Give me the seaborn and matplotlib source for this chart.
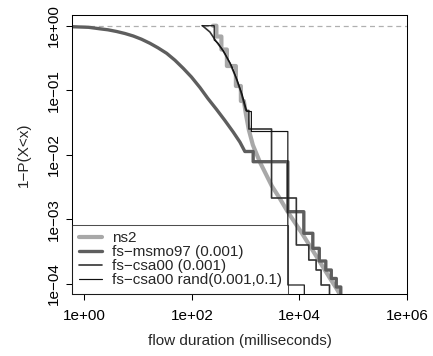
import matplotlib
matplotlib.use("Agg")
import matplotlib.pyplot as plt
import seaborn as sns
from matplotlib.ticker import NullLocator

# Curvas 1-P(X<x) (duracion del flujo en ms)
ns2_x = [245.9, 285.7, 285.7, 353.9, 353.9, 447.7, 447.7, 657.9, 657.9, 814.7, 814.7, 926.2,
         1009, 1147, 1361, 1837, 3069, 4320, 6084, 11070, 21030, 36670, 49470, 58710]
ns2_y = [1.0, 1.0, 0.6804, 0.6804, 0.4280, 0.4280, 0.2376, 0.2376, 0.1165, 0.1165, 0.0682, 0.0682,
         0.04291, 0.02425, 0.01421, 0.00775, 0.003293, 0.002109, 0.001303, 0.000616, 0.000262,
         0.0001238, 0.0000837, 0.0000652]

msmo97_x = [0.5907, 1.207, 1.957, 2.756, 3.999, 5.703, 8.135, 11.55, 16.62, 23.39, 33.95,
            48.41, 69.05, 98.04, 141.1, 198.6, 288.1, 411.1, 586.1, 780.6, 966.8,
            1379, 1379, 6084, 6084, 12060, 12060, 17730, 17730, 23400, 23400,
            30920, 30920, 39110, 39110, 48430, 48430, 58710, 58710]
msmo97_y = [0.9650, 0.9446, 0.8954, 0.8640, 0.8133, 0.7572, 0.6926, 0.6180, 0.5339, 0.4548,
            0.3738, 0.2922, 0.2189, 0.1606, 0.1104, 0.07459, 0.05039, 0.03403, 0.02259,
            0.01581, 0.01127,
            0.01127, 0.007832, 0.007832, 0.001317, 0.001317, 0.000610, 0.000610, 0.000357,
            0.000357, 0.0002271, 0.0002271, 0.0001647, 0.0001647, 0.0001217, 0.0001217,
            0.0000899, 0.0000899, 0.00001]

csa00_x = [157.0, 216.3, 279.7, 377.3, 508.9, 657.9, 814.7, 1009, 1147, 1147, 3029, 3029,
           8752, 8752, 14940, 14940, 20410, 20410, 25270, 25270, 36220, 36220]
csa00_y = [1.0, 0.7991, 0.5795, 0.4130, 0.2645, 0.1577, 0.0940, 0.0486, 0.0486, 0.02514,
           0.02514, 0.002147, 0.002147, 0.000402, 0.000402, 0.0002352, 0.0002352, 0.0001647,
           0.0001647, 0.0000965, 0.0000965, 0.00001]

rand_x = [153.6, 260.0, 260.0, 304.6, 402.3, 542.6, 701.5, 868.6, 1053, 1277, 1277, 6084,
          6084, 12320, 12320]
rand_y = [1.0, 1.0, 0.6006, 0.5398, 0.3846, 0.2418, 0.1417, 0.0845, 0.0469, 0.0469, 0.02299,
          0.02299, 0.0000965, 0.0000965, 0.00001]

etiquetas = ["ns2", "fs\u2212msmo97 (0.001)", "fs\u2212csa00 (0.001)", "fs\u2212csa00 rand(0.001,0.1)"]

xticks = [1, 1e2, 1e4, 1e6]
xtick_labels = ["1e+00", "1e+02", "1e+04", "1e+06"]
yticks = [1, 1e-1, 1e-2, 1e-3, 1e-4]
ytick_labels = ["1e+00", "1e\u221201", "1e\u221202", "1e\u221203", "1e\u221204"]

sns.set_style("ticks")
plt.rcParams["font.family"] = ["Liberation Sans", "DejaVu Sans"]

fig, ax = plt.subplots(figsize=(4.33, 3.56), dpi=100)
fig.subplots_adjust(left=72/433, right=407/433, bottom=1-294/356, top=1-15/356)
ax.set_xscale("log")
ax.set_yscale("log")

# linea de referencia en 1
ax.axhline(1, color="#b0b0b0", lw=0.9, ls=(0, (4, 3)), zorder=1)

series = [
    (ns2_x, ns2_y, etiquetas[0], "#a8a8a8", 3.0),
    (msmo97_x, msmo97_y, etiquetas[1], "#5e5e5e", 2.4),
    (csa00_x, csa00_y, etiquetas[2], "#333333", 1.2),
    (rand_x, rand_y, etiquetas[3], "#111111", 0.85),
]
for x, y, lab, col, lw in series:
    sns.lineplot(x=x, y=y, ax=ax, sort=False, estimator=None, color=col,
                 linewidth=lw, label=lab)

ax.set_xlim(0.59, 1e6)
ax.set_ylim(7.0e-5, 1.465)
ax.set_xticks(xticks)
ax.set_xticklabels(xtick_labels)
ax.set_yticks(yticks)
ax.set_yticklabels(ytick_labels, rotation=90, va="center")
ax.xaxis.set_minor_locator(NullLocator())
ax.yaxis.set_minor_locator(NullLocator())
ax.tick_params(axis="both", direction="out", length=4.3, width=0.75, color="black",
               labelsize=11, labelcolor="black")
ax.tick_params(axis="x", pad=6.3)
ax.tick_params(axis="y", pad=4)
for s in ax.spines.values():
    s.set_color("black")
    s.set_linewidth(0.75)
    s.set_visible(True)

ax.set_xlabel("flow duration (milliseconds)", fontsize=11)
ax.xaxis.set_label_coords(0.5, -0.1434)
ax.set_ylabel("1\u2212P(X<x)", fontsize=11)
ax.yaxis.set_label_coords(-0.122, 0.5)

leg = ax.legend(loc="lower left", bbox_to_anchor=(0, 0), borderaxespad=0, fontsize=11,
                frameon=True, fancybox=False, edgecolor="#222222", facecolor="none",
                labelspacing=0, borderpad=0.43, handlelength=1.52, handletextpad=0.65)
leg.get_frame().set_linewidth(0.75)

fig.savefig("out.png", dpi=100)
